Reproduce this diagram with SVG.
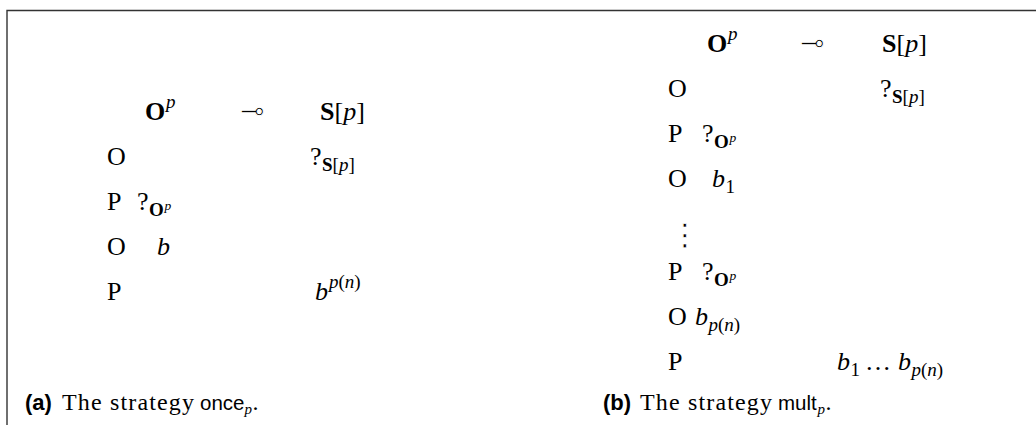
<svg xmlns="http://www.w3.org/2000/svg" width="1036" height="425" viewBox="0 0 1036 425">
<style>
.t{font-family:"Liberation Serif","Times New Roman",serif;font-size:26px;fill:#000}
.b{font-weight:bold}
.i{font-style:italic}
.sub{font-size:19px}
.ss{font-size:13.5px}
.sym{font-family:"DejaVu Sans",sans-serif;font-size:30px;fill:#000;stroke:#fff;stroke-width:1.1px}
.dots{font-family:"DejaVu Sans",sans-serif;font-size:30px;fill:#000;stroke:#fff;stroke-width:0.6px}
.cap{font-family:"Liberation Serif","Times New Roman",serif;font-size:24px;fill:#000}
.sf{font-family:"Liberation Sans",Arial,sans-serif;font-size:20.5px;fill:#000}
.sfb{font-family:"Liberation Sans",Arial,sans-serif;font-size:22px;font-weight:bold;fill:#000}
.frame{fill:none;stroke:#333;stroke-width:1.4}
</style>
<g id="frame">
<path class="frame" d="M7,425 V10.5 H1036"/>
</g>
<g id="connectors"></g>

<g id="panel-a">
<g id="a-header">
<text class="t b" x="145" y="120">O</text><text class="t i sub" x="166" y="108">p</text>
<text class="sym" x="240" y="121">⊸</text>
<text class="t" x="320" y="120"><tspan class="b">S</tspan>[<tspan class="i">p</tspan>]</text>
</g>
<g id="a-row1">
<text class="t" x="107" y="165">O</text>
<text class="t" x="310" y="165">?</text><text class="t sub" x="322" y="171"><tspan class="b">S</tspan>[<tspan class="i">p</tspan>]</text>
</g>
<g id="a-row2">
<text class="t" x="107" y="210">P</text>
<text class="t" x="137" y="210">?</text><text class="t sub b" x="149" y="216">O</text><text class="t i ss" x="164.5" y="210">p</text>
</g>
<g id="a-row3">
<text class="t" x="107" y="255">O</text>
<text class="t i" x="157" y="255">b</text>
</g>
<g id="a-row4">
<text class="t" x="107" y="300">P</text>
<text class="t i" x="315" y="300">b</text><text class="t sub" x="329" y="288"><tspan class="i">p</tspan>(<tspan class="i">n</tspan>)</text>
</g>
<g id="a-caption">
<text class="sfb" x="25" y="410">(a)</text>
<text class="cap" x="62" y="410" textLength="132" lengthAdjust="spacing">The strategy</text>
<text class="sf" x="200" y="410">once</text>
<text class="cap i" x="244.5" y="414" style="font-size:15px">p</text>
<text class="cap" x="252.5" y="410">.</text>
</g>
</g>

<g id="panel-b">
<g id="b-header">
<text class="t b" x="707" y="52">O</text><text class="t i sub" x="728" y="40">p</text>
<text class="sym" x="800" y="53">⊸</text>
<text class="t" x="882" y="52"><tspan class="b">S</tspan>[<tspan class="i">p</tspan>]</text>
</g>
<g id="b-row1">
<text class="t" x="668" y="97">O</text>
<text class="t" x="880" y="97">?</text><text class="t sub" x="892" y="103"><tspan class="b">S</tspan>[<tspan class="i">p</tspan>]</text>
</g>
<g id="b-row2">
<text class="t" x="668" y="142">P</text>
<text class="t" x="702" y="142">?</text><text class="t sub b" x="714" y="148">O</text><text class="t i ss" x="729.5" y="142">p</text>
</g>
<g id="b-row3">
<text class="t" x="668" y="187">O</text>
<text class="t i" x="712" y="187">b</text><text class="t sub" x="725.5" y="193">1</text>
</g>
<g id="b-vdots">
<text class="dots" x="670" y="245">⋮</text>
</g>
<g id="b-row4">
<text class="t" x="668" y="280">P</text>
<text class="t" x="702" y="280">?</text><text class="t sub b" x="714" y="286">O</text><text class="t i ss" x="729.5" y="280">p</text>
</g>
<g id="b-row5">
<text class="t" x="668" y="325">O</text>
<text class="t i" x="695" y="325">b</text><text class="t sub" x="708.5" y="331"><tspan class="i">p</tspan>(<tspan class="i">n</tspan>)</text>
</g>
<g id="b-row6">
<text class="t" x="668" y="370">P</text>
<text class="t i" x="837" y="370">b</text><text class="t sub" x="850.5" y="376">1</text>
<text class="t" x="865" y="370">…</text>
<text class="t i" x="898" y="370">b</text><text class="t sub" x="911.5" y="376"><tspan class="i">p</tspan>(<tspan class="i">n</tspan>)</text>
</g>
<g id="b-caption">
<text class="sfb" x="603" y="410">(b)</text>
<text class="cap" x="640" y="410" textLength="132" lengthAdjust="spacing">The strategy</text>
<text class="sf" x="778" y="410">mult</text>
<text class="cap i" x="817.5" y="414" style="font-size:15px">p</text>
<text class="cap" x="825.5" y="410">.</text>
</g>
</g>
</svg>
